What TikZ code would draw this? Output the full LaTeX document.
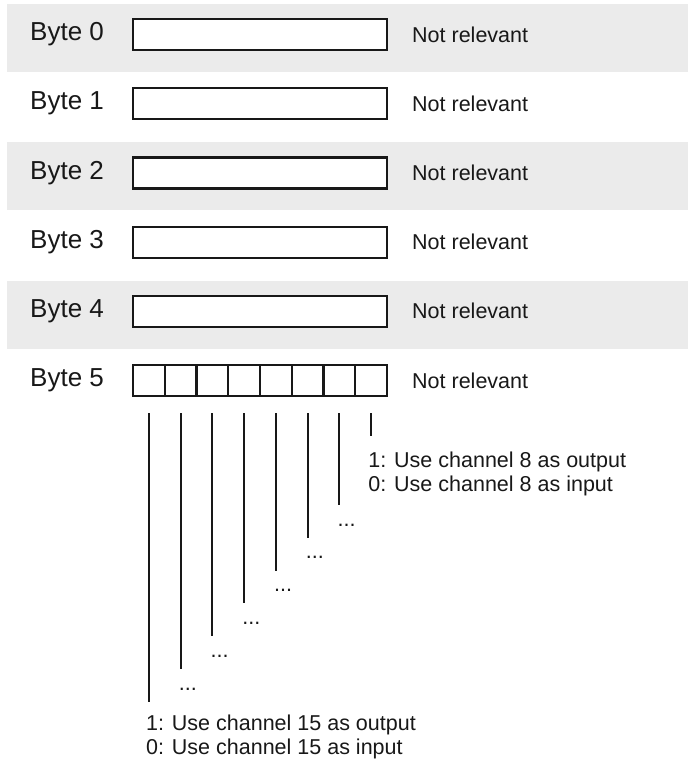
\documentclass[tikz,border=0pt]{standalone}
\usepackage{fontspec}
\setmainfont{Liberation Sans}
\usetikzlibrary{positioning}

\definecolor{bandgray}{RGB}{235,235,235}
\definecolor{inkgray}{RGB}{24,24,24}

\tikzset{
  bytelabel/.style={anchor=west, inner sep=0pt, text=inkgray, font=\fontsize{26}{30}\selectfont},
  bytebox/.style={draw=inkgray, fill=white, line width=2.2pt, minimum width=254pt, minimum height=31pt, inner sep=0pt, outer sep=0pt, anchor=west},
  bitcell/.style={draw=inkgray, fill=white, line width=2.2pt, minimum width=31.75pt, minimum height=31pt, inner sep=0pt, outer sep=0pt, anchor=west},
  notetext/.style={anchor=west, inner sep=0pt, text=inkgray, font=\fontsize{21.5}{24}\selectfont},
  bitnote/.style={anchor=base west, inner sep=0pt, text=inkgray, font=\fontsize{21.5}{24}\selectfont},
  bitline/.style={draw=inkgray, line width=2pt},
}

\begin{document}
\begin{tikzpicture}[x=1pt,y=-1pt]
    \useasboundingbox (0,0) rectangle (688,763);
    % -------------------------
    % Shaded rows (Byte 0, 2, 4)
    % -------------------------
    \foreach \k in {0,2,4}
        \fill[bandgray] (7,{4+69.2*\k}) rectangle (688,{72+69.2*\k});

    % -------------------------
    % Byte 0 ... Byte 4
    % -------------------------
    \foreach \k in {0,...,4} {
        \node[bytelabel] (lbl\k) at (30,{34.5+69.2*\k}) {Byte \k};
        \node[bytebox] (box\k) at (133,{34.5+69.2*\k}) {};
        \node[notetext] (nr\k) at (412,{34.5+69.2*\k}) {Not relevant};
    }

    % -------------------------
    % Byte 5, one cell per bit
    % -------------------------
    \node[bytelabel] (lbl5) at (30,380.5) {Byte 5};
    \node[notetext] (nr5) at (412,380.5) {Not relevant};
    \node[bitcell] (bit7) at (133,380.5) {};
    \foreach \b/\p in {6/7,5/6,4/5,3/4,2/3,1/2,0/1}
        \node[bitcell, right=0pt of bit\p] (bit\b) {};

    % lines below the cells
    \foreach \b in {0,...,7}
        \coordinate (top\b) at ([yshift=-17pt]bit\b.south);
    \coordinate (end0) at ([yshift=-23pt]top0);
    \foreach \b in {1,...,7}
        \coordinate (end\b) at ([yshift={-92pt-32.8pt*(\b-1)}]top\b);
    \foreach \b in {0,...,7}
        \draw[bitline] (top\b) -- (end\b);

    % dots for bits 1 to 6
    \foreach \b in {1,...,6}
        \node[bitnote] (dots\b) at ([xshift=-2pt,yshift=-21pt]end\b) {...};

    % -------------------------
    % Channel 8 and channel 15
    % -------------------------
    \node[bitnote] (out8) at ([xshift=-3pt,yshift=-31pt]end0) {1: Use channel 8 as output};
    \node[bitnote] (in8) at ([yshift=-24pt]out8.base west) {0: Use channel 8 as input};
    \node[bitnote] (out15) at ([xshift=-3pt,yshift=-29pt]end7) {1: Use channel 15 as output};
    \node[bitnote] (in15) at ([yshift=-24pt]out15.base west) {0: Use channel 15 as input};

\end{tikzpicture}
\end{document}
